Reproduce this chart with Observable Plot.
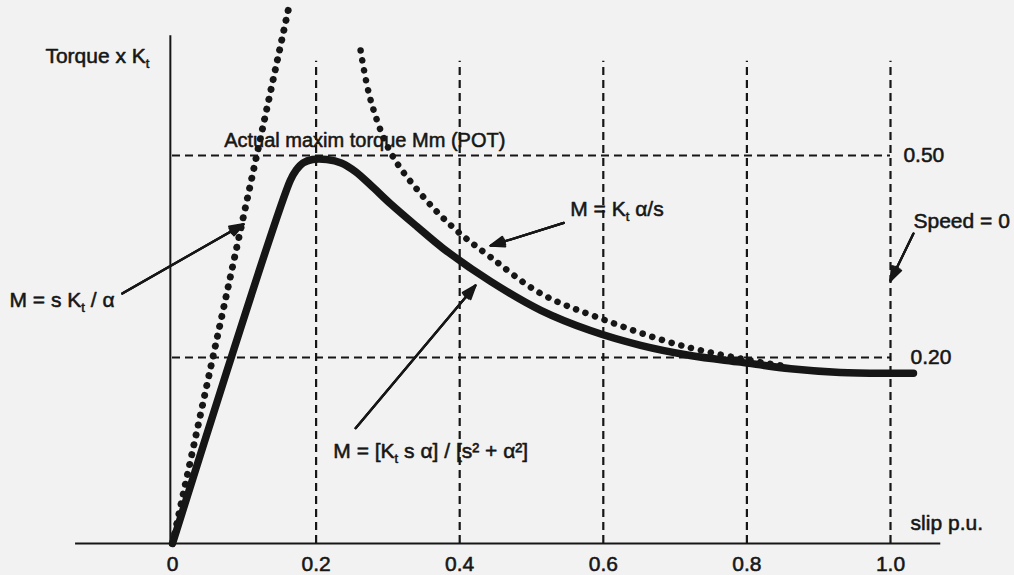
<!DOCTYPE html>
<html><head><meta charset="utf-8">
<script src="https://cdn.jsdelivr.net/npm/d3@7"></script>
<script src="https://cdn.jsdelivr.net/npm/@observablehq/plot@0.6"></script>
<style>
html,body{margin:0;padding:0;background:#f2f2f2;}
#chart svg{display:block}
</style></head><body><div id="chart"></div>
<script>
// ---- axis ticks / reference lines ----
const xTicks = [0, 0.2, 0.4, 0.6, 0.8, 1.0];
const xTickLabels = ["0", "0.2", "0.4", "0.6", "0.8", "1.0"];
const yRefValues = [0.5, 0.2];
const yRefLabels = ["0.50", "0.20"];
const vGridSlips = [0.2, 0.4, 0.6, 0.8, 1.0];

// ---- actual torque curve M = Kt s a / (s^2 + a^2) ----
const actualSlip   = [0, 0.164, 0.172, 0.182, 0.195, 0.215, 0.235, 0.255, 0.280, 0.304, 0.341, 0.377, 0.443, 0.513, 0.582, 0.652, 0.721, 0.791, 0.861, 0.930, 1.000, 1.032];
const actualTorque = [0, 0.463, 0.478, 0.489, 0.494, 0.494, 0.489, 0.476, 0.452, 0.428, 0.394, 0.362, 0.313, 0.270, 0.240, 0.218, 0.203, 0.195, 0.188, 0.184, 0.183, 0.183];

// ---- linear approximation M = s Kt / a ----
const linearSlip   = [0, 0.1616];
const linearTorque = [0, 0.718];

// ---- hyperbolic approximation M = Kt a / s ----
const hyperSlip   = [0.262, 0.276, 0.304, 0.345, 0.391, 0.443, 0.513, 0.596, 0.708, 0.819, 0.860];
const hyperTorque = [0.656, 0.582, 0.504, 0.444, 0.393, 0.349, 0.295, 0.258, 0.218, 0.195, 0.190];

// ---- annotations ----
const labelTexts  = ["Torque x K_t", "Actual maxim torque Mm (POT)", "M = s K_t / α", "M = K_t α/s", "Speed = 0", "M = [K_t s α] / [s² + α²]", "slip p.u."];
const labelSlip   = [-0.177, 0.072, -0.227, 0.554, 1.032, 0.224, 1.028];
const labelTorque = [0.638, 0.513, 0.275, 0.41, 0.393, 0.092, 0.014];
const labelSize   = [21, 20, 21, 21, 21, 21, 21];

const arrowFromSlip   = [-0.070, 0.545, 1.032, 0.255];
const arrowFromTorque = [0.295, 0.400, 0.384, 0.124];
const arrowToSlip     = [0.099, 0.443, 1.000, 0.422];
const arrowToTorque   = [0.398, 0.366, 0.314, 0.307];

const refLabelSlip = [1.018, 1.028];

// ---- derived tables ----
const actual = actualSlip.map((s, i) => ({s, m: actualTorque[i]}));
const linear = linearSlip.map((s, i) => ({s, m: linearTorque[i]}));
const hyper = hyperSlip.map((s, i) => ({s, m: hyperTorque[i]}));
const labels = labelTexts.map((t, i) => ({t, s: labelSlip[i], m: labelTorque[i], size: labelSize[i]}));
const arrows = arrowFromSlip.map((s, i) => ({s1: s, m1: arrowFromTorque[i], s2: arrowToSlip[i], m2: arrowToTorque[i]}));
const hRefs = yRefValues.map((v, i) => ({v, label: yRefLabels[i], s: refLabelSlip[i], s1: 0, s2: 1.0}));
const vGrid = vGridSlips.map(s => ({s, m1: 0, m2: 0.64}));
const ticks = xTicks.map((s, i) => ({s, label: xTickLabels[i]}));
const axisX = [{m: 0, s1: -0.135, s2: 1.07}];
const axisY = [{s: -0.003, m1: 0, m2: 0.678}];

const ink = "#161616";
const arrowOpts = {x1: "s1", y1: "m1", x2: "s2", y2: "m2", stroke: ink, strokeWidth: 2.2};
const textBold = {fill: ink, stroke: ink, strokeWidth: 0.55};

const chart = Plot.plot({
  width: 1014,
  height: 575,
  margin: 0,
  style: {background: "#f2f2f2", fontFamily: "'Liberation Sans', Arial, sans-serif", color: ink},
  x: {type: "linear", domain: [0, 1], range: [172, 890], axis: null},
  y: {type: "linear", domain: [0, 0.2, 0.5], range: [543, 357, 155], axis: null},
  marks: [
    // dashed reference grid
    Plot.ruleY(hRefs, {y: "v", x1: "s1", x2: "s2", stroke: ink, strokeWidth: 2.2, strokeDasharray: "8,5"}),
    Plot.ruleX(vGrid, {x: "s", y1: "m1", y2: "m2", stroke: ink, strokeWidth: 2.2, strokeDasharray: "8,5"}),
    // axes
    Plot.ruleY(axisX, {y: "m", x1: "s1", x2: "s2", stroke: ink, strokeWidth: 2}),
    Plot.ruleX(axisY, {x: "s", y1: "m1", y2: "m2", stroke: ink, strokeWidth: 2}),
    // approximations (dotted)
    Plot.line(linear, {x: "s", y: "m", stroke: ink, strokeWidth: 7, strokeDasharray: "0.1,10", strokeLinecap: "round"}),
    Plot.line(hyper, {x: "s", y: "m", stroke: ink, strokeWidth: 6.5, strokeDasharray: "0.1,10", strokeLinecap: "round", curve: "catmull-rom"}),
    // actual torque
    Plot.line(actual, {x: "s", y: "m", stroke: ink, strokeWidth: 7.5, curve: "catmull-rom", strokeLinecap: "round"}),
    // arrows (overlaid heads to look filled)
    Plot.arrow(arrows, {...arrowOpts, headAngle: 40, headLength: 10}),
    Plot.arrow(arrows, {...arrowOpts, headAngle: 26, headLength: 10}),
    Plot.arrow(arrows, {...arrowOpts, headAngle: 12, headLength: 10}),
    // tick labels
    Plot.text(ticks, {x: "s", y: -0.030, text: "label", fontSize: 21, lineAnchor: "bottom", ...textBold}),
    // reference labels
    Plot.text(hRefs, {x: "s", y: "v", text: "label", fontSize: 21, textAnchor: "start", lineAnchor: "middle", ...textBold}),
    // annotations
    Plot.text(labels, {x: "s", y: "m", text: "t", fontSize: "size", textAnchor: "start", lineAnchor: "bottom", ...textBold})
  ]
});

// subscripts "_t"
d3.select(chart).selectAll("text").each(function() {
  const el = this;
  const txt = el.textContent;
  if (!txt.includes("_t")) return;
  const parts = txt.split("_t");
  el.textContent = "";
  parts.forEach((p, i) => {
    if (i > 0) {
      const sub = document.createElementNS("http://www.w3.org/2000/svg", "tspan");
      sub.setAttribute("font-size", "13");
      sub.setAttribute("dy", "5");
      sub.textContent = "t";
      el.appendChild(sub);
    }
    const t = document.createElementNS("http://www.w3.org/2000/svg", "tspan");
    if (i > 0) t.setAttribute("dy", "-5");
    t.textContent = p;
    el.appendChild(t);
  });
});

document.getElementById("chart").appendChild(chart);
</script></body></html>
